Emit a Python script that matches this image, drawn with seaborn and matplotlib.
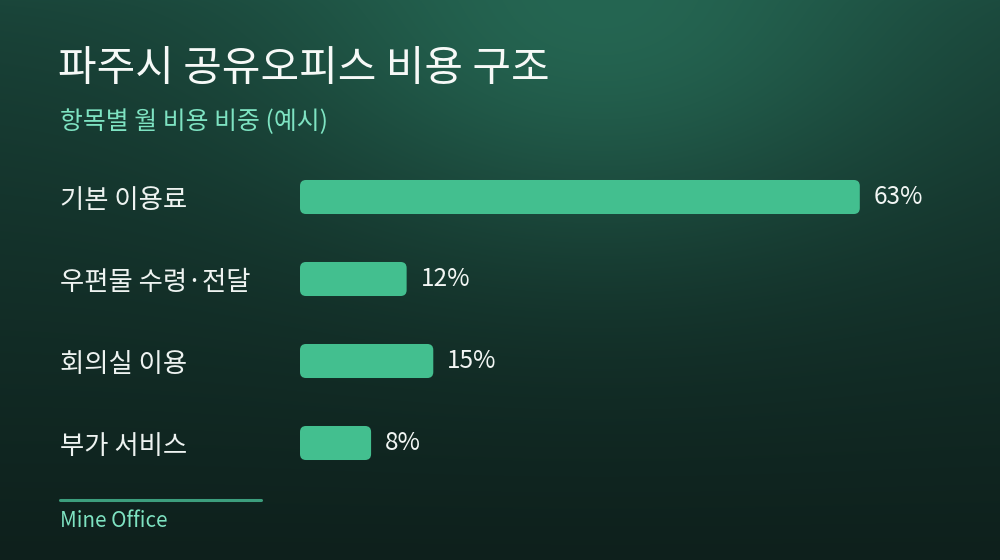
import numpy as np
import pandas as pd
import matplotlib
matplotlib.use("Agg")
import matplotlib.pyplot as plt
from matplotlib.patches import FancyBboxPatch
import seaborn as sns

# data
items = ["기본 이용료", "우편물 수령·전달", "회의실 이용", "부가 서비스"]
shares = [63, 12, 15, 8]
value_labels = ["63%", "12%", "15%", "8%"]

title = "파주시 공유오피스 비용 구조"
subtitle = "항목별 월 비용 비중 (예시)"
footer = "Mine Office"

BAR = "#43bf8f"
MINT = "#7ee3c2"

sns.set_style("white")
plt.rcParams["font.family"] = ["Noto Sans CJK KR", "DejaVu Sans"]

W, H = 1000, 560
fig = plt.figure(figsize=(W / 100, H / 100), dpi=100)

# -------------------------------------------------
# background: dark green vertical gradient + glow at top
# -------------------------------------------------
yy, xx = np.mgrid[0:H, 0:W].astype(float)
top = np.array([0x1a, 0x45, 0x3a]) / 255
bot = np.array([0x0e, 0x20, 0x1c]) / 255
glow_c = np.array([0x25, 0x66, 0x52]) / 255
t = (yy / H) ** 0.75
base = top[None, None, :] * (1 - t[..., None]) + bot[None, None, :] * t[..., None]
glow = np.exp(-((xx - 600) / 320) ** 2 - ((yy + 10) / 230) ** 2)
img = base + glow[..., None] * (glow_c[None, None, :] - base)
bg = fig.add_axes([0, 0, 1, 1])
bg.imshow(np.clip(img, 0, 1), aspect="auto", interpolation="bilinear")
bg.axis("off")

# -------------------------------------------------
# bars
# -------------------------------------------------
df = pd.DataFrame({"item": items, "share": shares})
ax = fig.add_axes([0.30, 1 - 484 / H, 0.622, 328 / H])
ax.patch.set_alpha(0)
sns.barplot(data=df, x="share", y="item", orient="h", color=BAR,
            width=0.415, saturation=1, ax=ax)
ax.set_xlim(0, 70)
ax.set_ylim(3.5, -0.5)

# swap the square bars for rounded ones
px_x = 622 / 70       # pixels per x unit
px_y = 82             # pixels per y unit
for p in list(ax.patches):
    x0, y0, w, h = p.get_x(), p.get_y(), p.get_width(), p.get_height()
    p.remove()
    ax.add_patch(FancyBboxPatch(
        (x0, y0), w, h,
        boxstyle=f"round,pad=0,rounding_size={6 / px_x}",
        mutation_aspect=px_x / px_y,
        fc=BAR, ec="none", zorder=2))

for i, (v, lab) in enumerate(zip(shares, value_labels)):
    ax.annotate(lab, (v, i), xytext=(14, 0), textcoords="offset pixels",
                ha="left", va="center", color="#f2f6f4", fontsize=17.5)

ax.set_xlabel("")
ax.set_ylabel("")
ax.set_xticks([])
ax.set_yticks(range(len(items)))
ax.set_yticklabels(items, ha="left", color="#eef3f1", fontsize=19)
ax.tick_params(axis="y", length=0, pad=240 * 0.72)
sns.despine(ax=ax, left=True, bottom=True)

# -------------------------------------------------
# title, subtitle, footer
# -------------------------------------------------
fig.text(58 / W, 1 - 70 / H, title, color="#f6f9f7", fontsize=30.2,
         weight="medium", va="center", ha="left")
fig.text(60 / W, 1 - 122 / H, subtitle, color=MINT, fontsize=17.9,
         va="center", ha="left")
fig.add_artist(plt.Line2D([60 / W, 261 / W], [1 - 500 / H, 1 - 500 / H],
                          color="#3c9e7d", lw=2.2))
fig.text(60 / W, 1 - 521 / H, footer, color=MINT, fontsize=14.8,
         va="center", ha="left")

fig.savefig("out.png", dpi=100)
